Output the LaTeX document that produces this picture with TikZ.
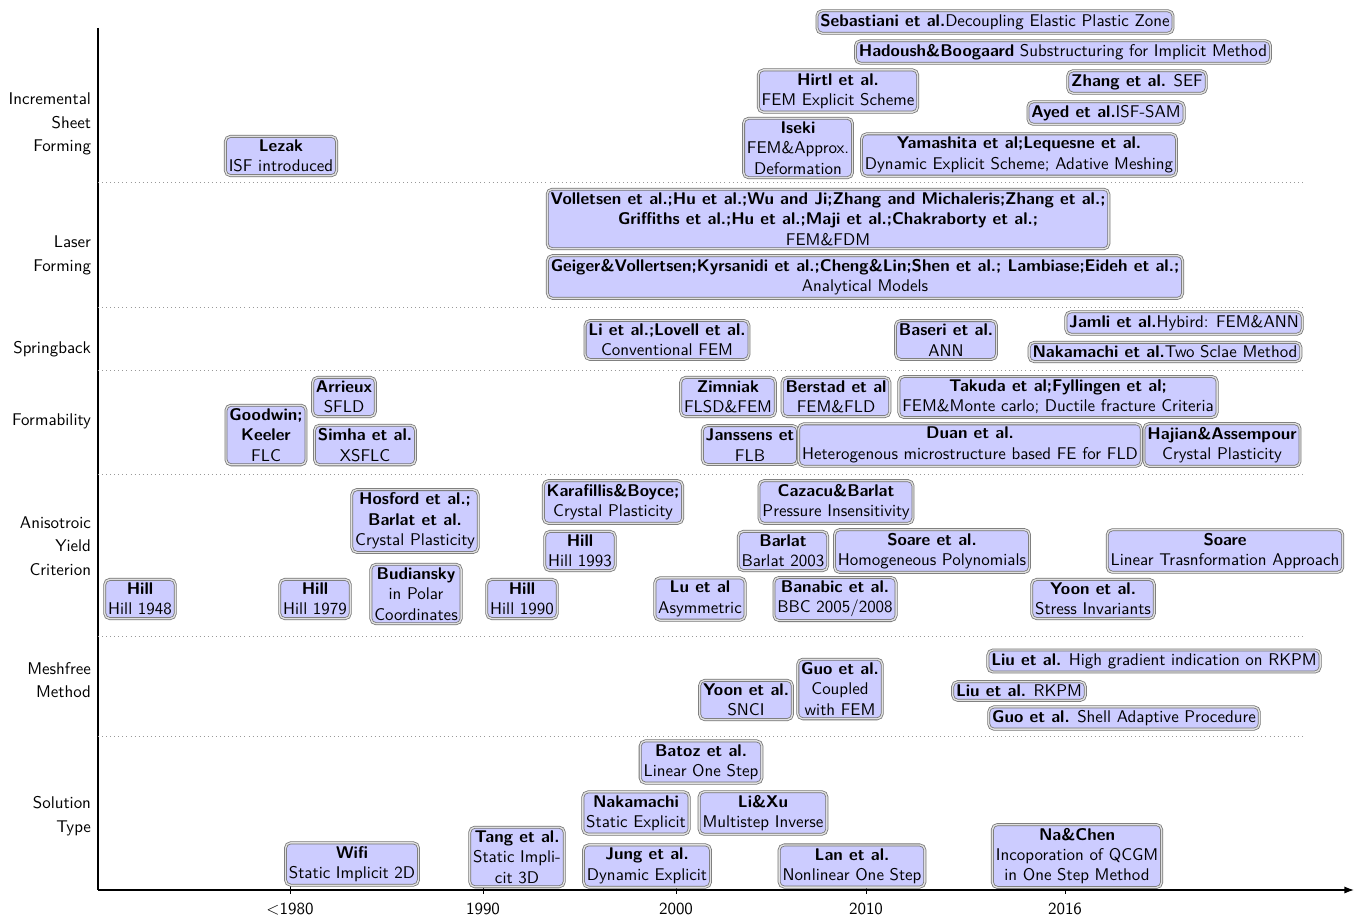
\documentclass[tikz,border=0pt]{standalone}
\usepackage{tikz}
\usetikzlibrary{arrows.meta,positioning}

\begin{document}
\begin{tikzpicture}[x=0.59pt,y=-0.59pt,font=\sffamily]
\tikzset{box/.style={draw=black!55, line width=0.45pt, double=black!12, double distance=0.8pt, rounded corners=3pt, fill=blue!20, align=center, inner sep=2pt},
  cat/.style={align=right, anchor=east, font=\sffamily\fontsize{10}{14}\selectfont},
  sep/.style={black!40, dotted}}
\useasboundingbox (0,0) rectangle (1357,919);

\coordinate (top) at (98,28);
\coordinate (origin) at (98,890);
\coordinate (xend) at (1354,890);
\draw[thick] (top) -- (origin);
\draw[thick,-{Latex[length=2mm]}] (origin) -- (xend);
\foreach \x/\yr in {290/{$<$1980},483/1990,676/2000,866/2010,1065/2016}{
  \draw (\x,886) -- (\x,894);
  \node[anchor=north] (yr\x) at (\x,897) {\yr};
}
\foreach \y in {182,307,370,474,636,736}
  \draw[sep] (98,\y) -- (1305,\y);

\node[cat] (isf) at (97,124) {Incremental\\Sheet\\Forming};
\node[cat] (laser) at (97,255) {Laser\\Forming};
\node[cat] (spring) at (97,349) {Springback};
\node[cat] (form) at (97,421) {Formability};
\node[cat] (yield) at (97,546) {Anisotroic\\Yield\\Criterion};
\node[cat] (mesh) at (97,680) {Meshfree\\Method};
\node[cat] (sol) at (97,816) {Solution\\Type};

\node[box] (sebastiani) at (995,22) {\textbf{Sebastiani et al.}Decoupling Elastic Plastic Zone};
\node[box] (hadoush) at (1063,52) {\textbf{Hadoush\&Boogaard} Substructuring for Implicit Method};
\node[box] (hirtl) at (838,91) {\textbf{Hirtl et al.}\\FEM Explicit Scheme};
\node[box] (zhang) at (1137,82) {\textbf{Zhang et al.} SEF};
\node[box] (ayed) at (1106,113) {\textbf{Ayed et al.}ISF-SAM};
\node[box] (iseki) at (798,148) {\textbf{Iseki}\\FEM\&Approx.\\Deformation};
\node[box] (yamashita) at (1019,155) {\textbf{Yamashita et al;Lequesne et al.}\\Dynamic Explicit Scheme; Adative Meshing};
\node[box] (lezak) at (281,156) {\textbf{Lezak}\\ISF introduced};

\node[box] (volletsen) at (828,219) {\textbf{Volletsen et al.;Hu et al.;Wu and Ji;Zhang and Michaleris;Zhang et al.;}\\\textbf{Griffiths et al.;Hu et al.;Maji et al.;Chakraborty et al.;}\\FEM\&FDM};
\node[box] (geiger) at (865,277) {\textbf{Geiger\&Vollertsen;Kyrsanidi et al.;Cheng\&Lin;Shen et al.; Lambiase;Eideh et al.;}\\Analytical Models};

\node[box] (li) at (667,340) {\textbf{Li et al.;Lovell et al.}\\Conventional FEM};
\node[box] (baseri) at (946,340) {\textbf{Baseri et al.}\\ANN};
\node[box] (jamli) at (1184,323) {\textbf{Jamli et al.}Hybird: FEM\&ANN};
\node[box] (nakamachisb) at (1165,352) {\textbf{Nakamachi et al.}Two Sclae Method};

\node[box] (arrieux) at (344,397) {\textbf{Arrieux}\\SFLD};
\node[box] (goodwin) at (266,435) {\textbf{Goodwin;}\\\textbf{Keeler}\\FLC};
\node[box] (simha) at (365,445) {\textbf{Simha et al.}\\XSFLC};
\node[box] (zimniak) at (728,397) {\textbf{Zimniak}\\FLSD\&FEM};
\node[box] (berstad) at (836,397) {\textbf{Berstad et al}\\FEM\&FLD};
\node[box] (takuda) at (1058,397) {\textbf{Takuda et al;Fyllingen et al;}\\FEM\&Monte carlo; Ductile fracture Criteria};
\node[box] (janssens) at (750,445) {\textbf{Janssens et}\\FLB};
\node[box] (duan) at (970,445) {\textbf{Duan et al.}\\Heterogenous microstructure based FE for FLD};
\node[box] (hajian) at (1222,445) {\textbf{Hajian\&Assempour}\\Crystal Plasticity};

\node[box] (hill48) at (140,599) {\textbf{Hill}\\Hill 1948};
\node[box] (hill79) at (315,599) {\textbf{Hill}\\Hill 1979};
\node[box] (budiansky) at (416,594) {\textbf{Budiansky}\\in Polar\\Coordinates};
\node[box] (hosford) at (415,521) {\textbf{Hosford et al.;}\\\textbf{Barlat et al.}\\Crystal Plasticity};
\node[box] (hill90) at (522,599) {\textbf{Hill}\\Hill 1990};
\node[box] (karafillis) at (613,502) {\textbf{Karafillis\&Boyce;}\\Crystal Plasticity};
\node[box] (hill93) at (580,551) {\textbf{Hill}\\Hill 1993};
\node[box] (lu) at (700,599) {\textbf{Lu et al}\\Asymmetric};
\node[box] (cazacu) at (836,502) {\textbf{Cazacu\&Barlat}\\Pressure Insensitivity};
\node[box] (barlat) at (783,551) {\textbf{Barlat}\\Barlat 2003};
\node[box] (soareetal) at (932,551) {\textbf{Soare et al.}\\Homogeneous Polynomials};
\node[box] (banabic) at (835,599) {\textbf{Banabic et al.}\\BBC 2005/2008};
\node[box] (soare) at (1225,551) {\textbf{Soare}\\Linear Trasnformation Approach};
\node[box] (yoonyc) at (1093,599) {\textbf{Yoon et al.}\\Stress Invariants};

\node[box] (yoonmf) at (746,700) {\textbf{Yoon et al.}\\SNCI};
\node[box] (guomf) at (840,689) {\textbf{Guo et al.}\\Coupled\\with FEM};
\node[box] (liuhg) at (1154,661) {\textbf{Liu et al.} High gradient indication on RKPM};
\node[box] (liurkpm) at (1019,691) {\textbf{Liu et al.} RKPM};
\node[box] (guoshell) at (1124,718) {\textbf{Guo et al.} Shell Adaptive Procedure};

\node[box] (batoz) at (701,762) {\textbf{Batoz et al.}\\Linear One Step};
\node[box] (nakamachi) at (636,813) {\textbf{Nakamachi}\\Static Explicit};
\node[box] (lixu) at (763,813) {\textbf{Li\&Xu}\\Multistep Inverse};
\node[box] (wifi) at (352,864) {\textbf{Wifi}\\Static Implicit 2D};
\node[box] (tang) at (517,857) {\textbf{Tang et al.}\\Static Impli-\\cit 3D};
\node[box] (jung) at (647,866) {\textbf{Jung et al.}\\Dynamic Explicit};
\node[box] (lan) at (852,866) {\textbf{Lan et al.}\\Nonlinear One Step};
\node[box] (nachen) at (1077,856) {\textbf{Na\&Chen}\\Incoporation of QCGM\\in One Step Method};
\end{tikzpicture}
\end{document}
